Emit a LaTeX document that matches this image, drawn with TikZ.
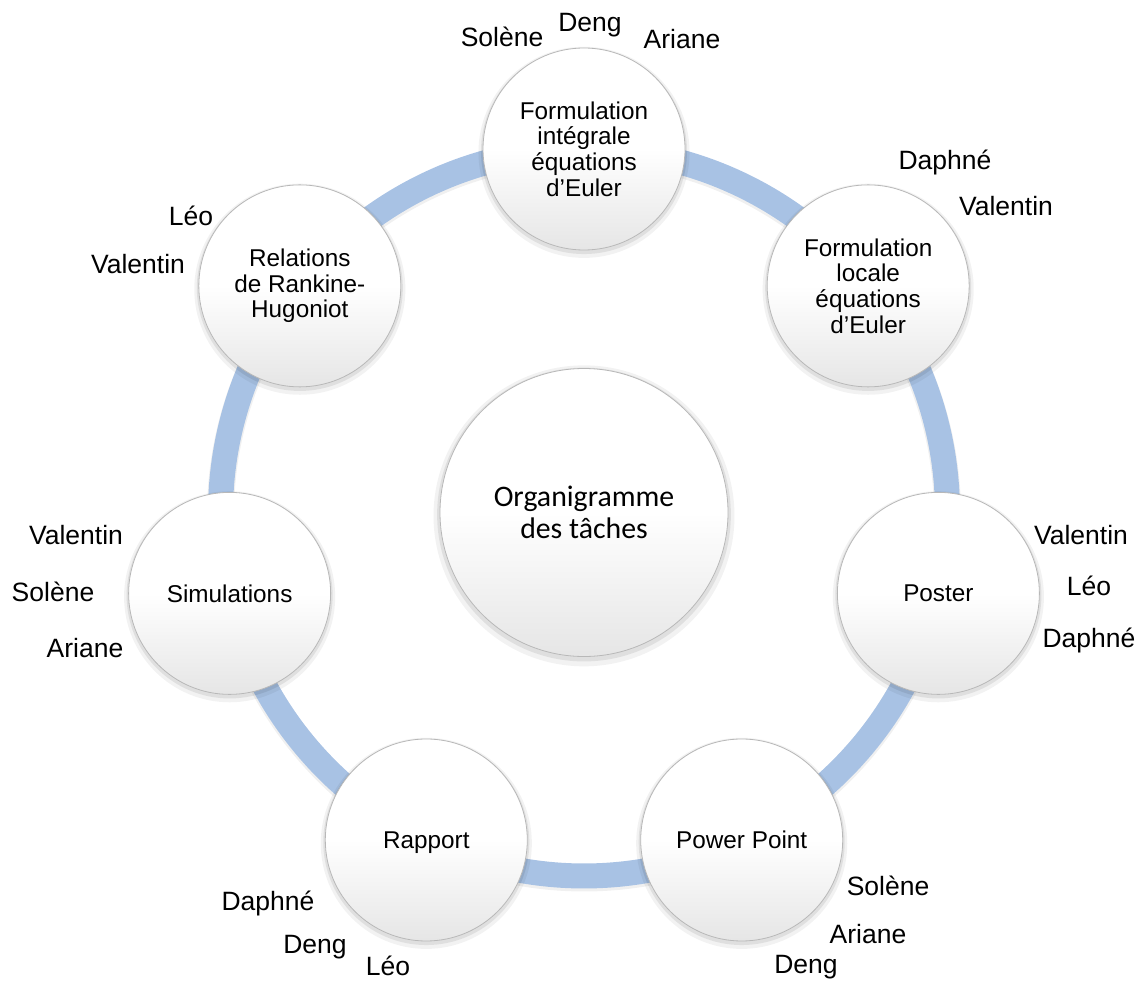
\documentclass[tikz,border=0pt]{standalone}
\usepackage{fontspec}
\usetikzlibrary{calc,shadows}
\newfontfamily\libsans{Liberation Sans}
\newfontfamily\carlfont{Carlito}
\definecolor{ringblue}{RGB}{168,194,228}
\pgfdeclarelayer{background}
\pgfsetlayers{background,main}
\tikzset{
  bub/.style={circle, inner sep=0pt, minimum size=101pt, align=center,
    font=\libsans\fontsize{12.15}{12.85}\selectfont,
    top color=white, bottom color=black!10, middle color=white,
    draw=black!28, line width=0.4pt,
    general shadow={fill=black, opacity=0.05, shadow scale=1.045, shadow yshift=-1.6pt},
    general shadow={fill=black, opacity=0.08, shadow scale=1.02, shadow yshift=-1pt}},
  onebub/.style={bub, text depth=0pt},
  bigbub/.style={bub, minimum size=144pt,
    font=\carlfont\fontsize{14.9}{15.8}\selectfont},
  who/.style={anchor=base, inner sep=0pt, font=\libsans\fontsize{13.25}{15}\selectfont},
  ringarc/.style={draw=ringblue, line width=12.5pt},
  ringshadow/.style={draw=black, opacity=0.06, line width=13.5pt},
}
\begin{document}
\begin{tikzpicture}[x=0.5pt, y=0.5pt]
\useasboundingbox (0,0) rectangle (1145,982);
\coordinate (c) at (584,469.5);
% outer bubbles, clockwise from top
\node[bub] (n0) at ([shift={(90:181.75pt)}]c) {Formulation\\intégrale\\équations\\d’Euler};
\node[bub] (n1) at ([shift={(38.5714:181.75pt)}]c) {Formulation\\locale\\équations\\d’Euler};
\node[onebub] (n2) at ([shift={(-12.8571:181.75pt)}]c) {Poster};
\node[onebub] (n3) at ([shift={(-64.2857:181.75pt)}]c) {Power Point};
\node[onebub] (n4) at ([shift={(-115.7143:181.75pt)}]c) {Rapport};
\node[onebub] (n5) at ([shift={(-167.1429:181.75pt)}]c) {Simulations};
\node[bub] (n6) at ([shift={(141.4286:181.75pt)}]c) {Relations\\de Rankine-\\Hugoniot};
\node[bigbub] (ctr) at (c) {Organigramme\\des tâches};
% ring between bubbles
\begin{pgfonlayer}{background}
\foreach \i/\j/\a in {0/1/90, 1/2/38.5714, 2/3/-12.8571, 3/4/-64.2857, 4/5/-115.7143, 5/6/-167.1429, 6/0/141.4286}{
  \draw[ringshadow] ([yshift=-1pt]n\i.center) arc[start angle=\a, delta angle=-51.4286, radius=181.75pt];
  \draw[ringarc] (n\i.center) arc[start angle=\a, delta angle=-51.4286, radius=181.75pt];
}
\end{pgfonlayer}
% names
\node[who] (t1) at (502,935) {Solène};
\node[who] (t2) at (590,950) {Deng};
\node[who] (t3) at (682,933) {Ariane};
\node[who] (l1) at (945,812) {Daphné};
\node[who] (l2) at (1006,766) {Valentin};
\node[who] (p1) at (1081,438) {Valentin};
\node[who] (p2) at (1089,387) {Léo};
\node[who] (p3) at (1089,335) {Daphné};
\node[who] (w1) at (888,87) {Solène};
\node[who] (w2) at (868,39) {Ariane};
\node[who] (w3) at (806,9) {Deng};
\node[who] (r1) at (268,72) {Daphné};
\node[who] (r2) at (315,29) {Deng};
\node[who] (r3) at (388,7) {Léo};
\node[who] (s1) at (76,438) {Valentin};
\node[who] (s2) at (53,381) {Solène};
\node[who] (s3) at (85,325) {Ariane};
\node[who] (h1) at (191,756) {Léo};
\node[who] (h2) at (138,709) {Valentin};
\end{tikzpicture}
\end{document}
